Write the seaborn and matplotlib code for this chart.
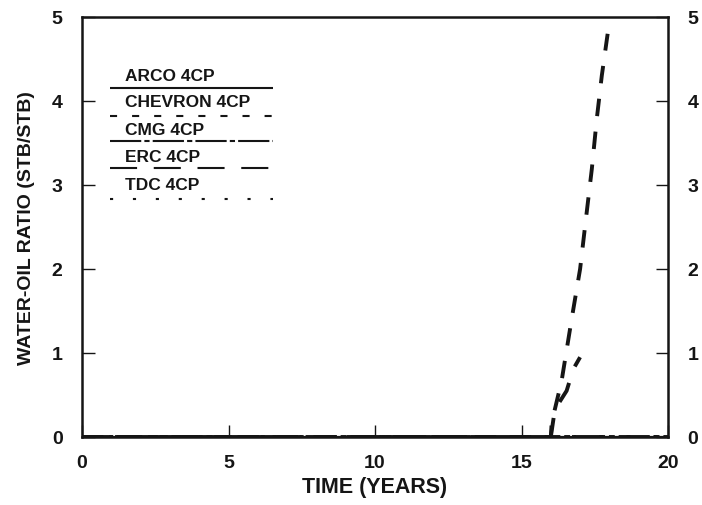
import matplotlib
matplotlib.use("Agg")
import matplotlib.pyplot as plt
import seaborn as sns
import pandas as pd

sns.set_theme(style="white")
plt.rcParams['font.family'] = ['Liberation Sans', 'DejaVu Sans']
plt.rcParams['font.weight'] = 'bold'

# ---- data ----
arco_x = [0.0, 20.0]
arco_y = [0.0, 0.0]
chevron_x = [0.0, 16.0, 16.03, 16.37, 16.71, 17.0, 17.2, 17.4, 17.57, 17.74, 17.94]
chevron_y = [0.0, 0.0, 0.17, 0.67, 1.40, 2.0, 2.6, 3.19, 3.79, 4.30, 4.80]
cmg_x = [0.0, 20.0]
cmg_y = [0.0, 0.0]
erc_x = [0.0, 16.0, 16.14, 16.54, 16.77, 17.0]
erc_y = [0.0, 0.0, 0.33, 0.55, 0.81, 0.95]
tdc_x = [0.0, 20.0]
tdc_y = [0.0, 0.0]

models = ["ARCO 4CP", "CHEVRON 4CP", "CMG 4CP", "ERC 4CP", "TDC 4CP"]
x_ticks = [0, 5, 10, 15, 20]
y_ticks = [0, 1, 2, 3, 4, 5]
x_label = "TIME (YEARS)"
y_label = "WATER-OIL RATIO (STB/STB)"

frames = []
for name, xs, ys in [(models[0], arco_x, arco_y), (models[1], chevron_x, chevron_y),
                     (models[2], cmg_x, cmg_y), (models[3], erc_x, erc_y),
                     (models[4], tdc_x, tdc_y)]:
    frames.append(pd.DataFrame({"time": xs, "wor": ys, "model": name}))
df = pd.concat(frames, ignore_index=True)

ink = "#151515"
plot_dashes = {
    "ARCO 4CP": "",
    "CHEVRON 4CP": (4.5, 4.0),
    "CMG 4CP": (8, 1, 1.5, 1),
    "ERC 4CP": (5.5, 4.5),
    "TDC 4CP": (1, 6),
}
legend_styles = {
    "ARCO 4CP": (0, ()),
    "CHEVRON 4CP": (0, (3.4, 7.2)),
    "CMG 4CP": (0, (15, 1.5, 2.5, 1.5)),
    "ERC 4CP": (0, (13, 8)),
    "TDC 4CP": (0, (1.5, 9.5)),
}

fig = plt.figure(figsize=(7.02, 5.06), dpi=100)
ax = fig.add_axes([82/702, 1-438/506, 586/702, 420/506])

sns.lineplot(data=df, x="time", y="wor", hue="model", style="model",
             palette={m: ink for m in models}, dashes=plot_dashes,
             linewidth=2.8, sort=False, estimator=None, legend=False, ax=ax)
for line in ax.get_lines():
    line.set_linewidth(2.8 if line.get_linestyle() != '-' else 1.6)

ax.set_xlim(0, 20)
ax.set_ylim(0, 5)
ax.set_xticks(x_ticks)
ax.set_yticks(y_ticks)
ax.set_xticklabels([str(t) for t in x_ticks], fontsize=14, fontweight='bold')
ax.set_yticklabels([str(t) for t in y_ticks], fontsize=14, fontweight='bold')
ax.tick_params(axis='both', direction='in', length=9, width=1.0, color=ink,
               labelcolor=ink, top=False, right=True, labelright=True, left=True, bottom=True)
ax.tick_params(axis='x', pad=12)
ax.tick_params(axis='y', which='both', pad=14)
ax.set_xlabel(x_label, fontsize=15.5, fontweight='bold', color=ink, labelpad=4)
ax.set_ylabel(y_label, fontsize=14, fontweight='bold', color=ink, labelpad=12)
for sp in ax.spines.values():
    sp.set_visible(True)
    sp.set_color(ink)
    sp.set_linewidth(1.8)

# ---- legend drawn as in the reference (label above sample line) ----
text_y = [0.860, 0.798, 0.733, 0.667, 0.600]
line_y = [0.831, 0.764, 0.705, 0.640, 0.567]
for m, ty, ly in zip(models, text_y, line_y):
    ax.text(0.073, ty, m, transform=ax.transAxes, fontsize=12.5, fontweight='bold',
            color=ink, va='center', ha='left')
    ax.plot([0.048, 0.326], [ly, ly], transform=ax.transAxes, color=ink,
            linewidth=1.5, linestyle=legend_styles[m])

fig.savefig("out.png", dpi=100)
